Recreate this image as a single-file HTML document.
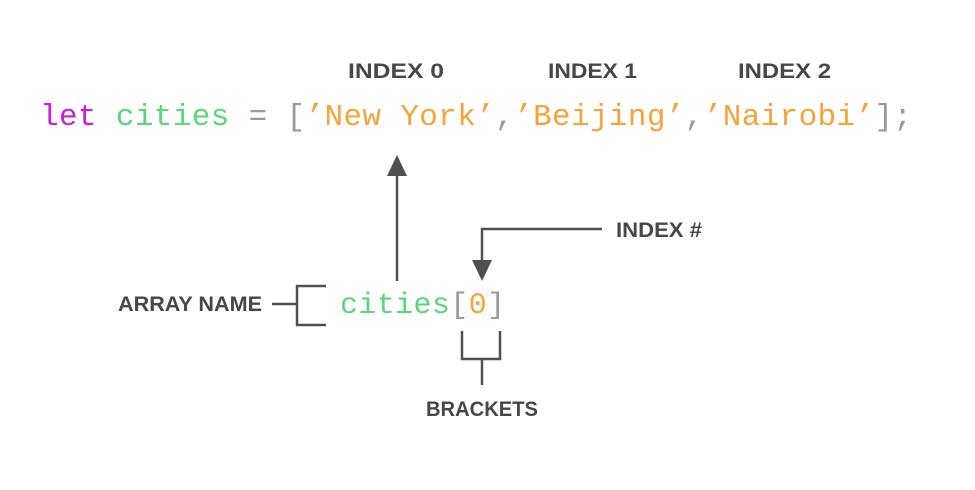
<!DOCTYPE html>
<html><head><style>html,body{margin:0;padding:0;background:#fff}</style></head><body>
<svg width="975" height="485" xmlns="http://www.w3.org/2000/svg">
<g font-family="Liberation Sans, sans-serif" font-weight="bold" font-size="21" fill="#474747">
<text x="348" y="78" textLength="96" lengthAdjust="spacingAndGlyphs">INDEX 0</text>
<text x="548" y="78" textLength="89" lengthAdjust="spacingAndGlyphs">INDEX 1</text>
<text x="738" y="78" textLength="93" lengthAdjust="spacingAndGlyphs">INDEX 2</text>
<text x="118" y="311" textLength="144" lengthAdjust="spacingAndGlyphs">ARRAY NAME</text>
<text x="616" y="237" textLength="86" lengthAdjust="spacingAndGlyphs">INDEX #</text>
<text x="426" y="416" textLength="112" lengthAdjust="spacingAndGlyphs">BRACKETS</text>
</g>
<text x="40" y="125" font-family="Liberation Mono, monospace" font-size="31" textLength="872" lengthAdjust="spacing"><tspan fill="#c81fd8">let</tspan> <tspan fill="#5cd67a">cities</tspan> <tspan fill="#9a9a9a">= [</tspan><tspan fill="#f5a43a">’New York’</tspan><tspan fill="#9a9a9a">,</tspan><tspan fill="#f5a43a">’Beijing’</tspan><tspan fill="#9a9a9a">,</tspan><tspan fill="#f5a43a">’Nairobi’</tspan><tspan fill="#9a9a9a">];</tspan></text>
<text x="340" y="313" font-family="Liberation Mono, monospace" font-size="30" textLength="165" lengthAdjust="spacing"><tspan fill="#5cd67a">cities</tspan><tspan fill="#9a9a9a">[</tspan><tspan fill="#f5a43a">0</tspan><tspan fill="#9a9a9a">]</tspan></text>
<g stroke="#505050" stroke-width="2.5" fill="none">
<line x1="397" y1="281" x2="397" y2="172"/>
<polyline points="602,229 482,229 482,262"/>
<line x1="272" y1="304" x2="297" y2="304"/>
<polyline points="326,286 297,286 297,325 326,325"/>
<polyline points="462,331 462,359 500,359 500,331"/>
<line x1="482" y1="359" x2="482" y2="385"/>
</g>
<g fill="#505050">
<polygon points="397,155 387,176 407,176"/>
<polygon points="482,281 472,260 492,260"/>
</g>
</svg>
</body></html>
